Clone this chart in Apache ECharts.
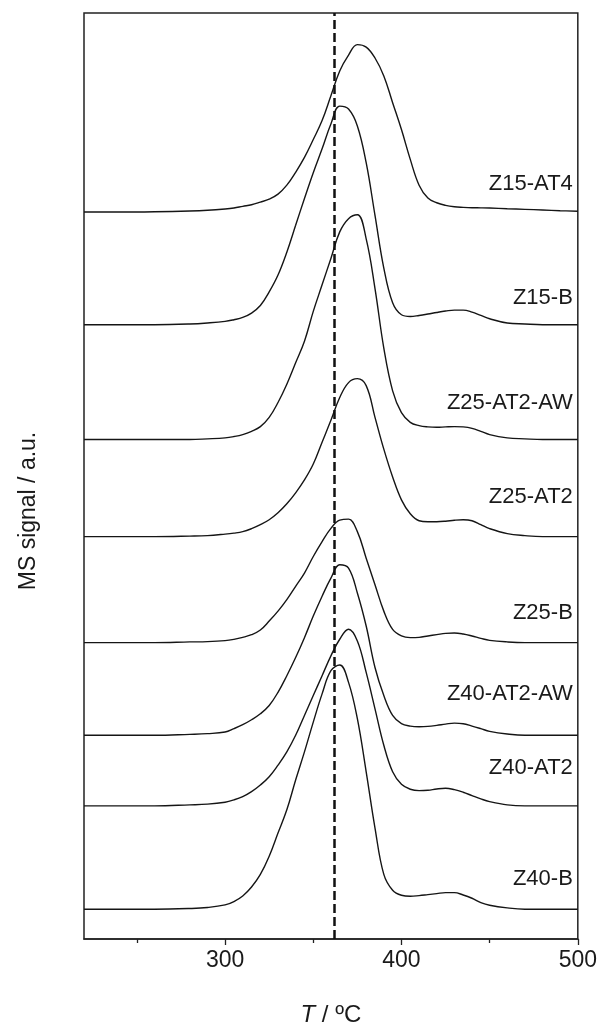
<!DOCTYPE html>
<html>
<head>
<meta charset="utf-8">
<script src="https://cdn.jsdelivr.net/npm/echarts@6/dist/echarts.min.js"></script>
<style>
  html, body { margin: 0; padding: 0; background: #fff; }
  #chart { width: 600px; height: 1032px; }
</style>
</head>
<body>
<div id="chart"></div>
<script>
// ---- Data (temperature in °C, MS signal in arbitrary units) ----
const temperature = [220,240,260,280,290,300,305,310,315,320,325,330,335,340,345,350,355,360,365,370,375,380,385,390,395,400,405,410,415,420,425,430,435,440,445,450,460,470,480,490,500];

const sampleNames = ['Z15-AT4','Z15-B','Z25-AT2-AW','Z25-AT2','Z25-B','Z40-AT2-AW','Z40-AT2','Z40-B'];

// vertical stacking offsets (a.u.)
const offsets = [731.7, 618.3, 502.7, 405, 298.3, 205, 134, 30];

// label heights (a.u.) at the right edge
const labelLevels = [760, 645, 540, 445, 328, 247, 172, 60];

const sigZ15AT4 = [0,0,0.3,1,1.7,3, 4,5.7,7.3,10,13,18,27,40,55,73,92,117,142,158,168.5,166,155,137,110,83,53,27,14,9.3,6.7,5.3,4.7,4.3,4.2,4, 3.3,2.7,2,1.3,0.7];
const sigZ15B   = [0,0,0,0.7,1.7,3.3, 5,7.3,11.7,19.3,33,50,73,100,127,153,177,202,220,217,200,163,110,57,22,10,8.3,9.3,10.7,12.3,13.7,14.7,14.7,12.7,9.3,6, 1.7,0.7,0,0,0];
const sigZ25AT2AW = [0,0,0,0,0.7,1.7, 3,5,8.3,13,22.3,37.3,55.7,77.3,99,129,155.7,182.3,209,222.3,226.3,202,152,92,49,27,17.3,14,12.7,12.3,12.7,13,12.7,11.3,8.3,5, 1.7,0.7,0,0,0];
const sigZ25AT2 = [0,0,0,0.5,1,2.5, 3.5,5,8,12,17,24,33,44,57,73,95,117,140,155,159,152,120,88,60,37,23,16,15,15,15.5,16.5,17,16,12,8, 3,1,0,0,0];
const sigZ25B   = [0,0,0,0.7,1,2, 3.3,5.3,8,12.7,21.7,31.7,43.3,56.7,70,86.7,101.7,115,123.3,124.3,111.7,85,58.3,31.7,13.3,6.7,5,5.3,6.7,8,9.3,9.7,8.7,6.7,4.3,2.3, 0.7,0,0,0,0];
const sigZ40AT2AW = [0,0,0,1,1.7,3.3, 6.7,10.7,15.7,21.7,30,43.3,60,78.3,98.3,120,140,158.3,171.7,168.3,143.3,110,68.3,40,20,11.7,9.3,8.7,9,10,11.3,12.3,11.7,9.3,6.7,4, 1.3,0,0,0,0];
const sigZ40AT2 = [0,0,0,1,1.7,3.7, 6,9.3,14.3,21,29.3,41,54.3,71,91,111,131,151,167.7,177.7,166,134.3,97.7,61,34.3,21.7,16.7,15.3,15.7,17,17.7,16.3,13.7,10.3,7,4.3, 1,0,0,0,0];
const sigZ40B   = [0,0,0,0.7,1.7,4.3, 7.7,13.3,22.3,35,53.3,76.7,100,130,158.3,188.3,216.7,240,245.7,228.3,191.7,138.3,81.7,35,19,14,13,13.7,14.7,15.7,16.7,16.7,14.3,11,6.7,4, 1.3,0,0,0,0];

const signals = [sigZ15AT4, sigZ15B, sigZ25AT2AW, sigZ25AT2, sigZ25B, sigZ40AT2AW, sigZ40AT2, sigZ40B];

const majorTicks = [300, 400, 500];
const minorTicks = [250, 350, 450];
const refTemperature = 362;

// ---- Chart ----
const FONT = '"Liberation Sans", Arial, Helvetica, sans-serif';
const INK = '#151515';

const chart = echarts.init(document.getElementById('chart'), null, { renderer: 'canvas' });

const lineSeries = sampleNames.map((name, k) => ({
  name: name,
  type: 'line',
  xAxisIndex: 0,
  yAxisIndex: 0,
  showSymbol: false,
  smooth: 0.4,
  silent: true,
  lineStyle: { color: INK, width: 1.4 },
  data: temperature.map((t, i) => [t, offsets[k] + signals[k][i]]),
  markLine: k === 0 ? {
    silent: true,
    symbol: 'none',
    label: { show: false },
    lineStyle: { color: '#111', width: 2.5, type: [9, 4] },
    data: [{ xAxis: refTemperature }]
  } : undefined
}));

const labelSeries = {
  type: 'scatter',
  xAxisIndex: 0,
  yAxisIndex: 0,
  symbolSize: 0.01,
  silent: true,
  itemStyle: { color: '#1a1a1a', opacity: 1 },
  label: {
    show: true,
    position: 'left',
    distance: 5,
    fontFamily: FONT,
    fontSize: 22,
    color: '#1a1a1a',
    opacity: 1,
    formatter: p => p.data[2]
  },
  data: sampleNames.map((n, k) => [500, labelLevels[k], n])
};

const option = {
  animation: false,
  backgroundColor: '#fff',
  grid: {
    left: 84, right: 22, top: 13, bottom: 87,
    show: true, borderColor: '#222', borderWidth: 1.5, backgroundColor: 'transparent'
  },
  xAxis: [
    {
      type: 'value', min: 220, max: 500, position: 'bottom',
      axisLine: { show: true, lineStyle: { color: '#222', width: 1.5 } },
      axisTick: { show: true, customValues: majorTicks, length: 6, lineStyle: { color: '#222', width: 1.3 } },
      axisLabel: { show: true, customValues: majorTicks, fontFamily: FONT, fontSize: 23, color: '#1a1a1a', margin: 10 },
      splitLine: { show: false },
      name: '{it|T} / ºC',
      nameLocation: 'middle',
      nameGap: 64,
      nameTextStyle: {
        fontFamily: FONT, fontSize: 24, color: '#1a1a1a',
        rich: { it: { fontFamily: FONT, fontSize: 24, fontStyle: 'italic', color: '#1a1a1a' } }
      }
    },
    {
      type: 'value', min: 220, max: 500, position: 'bottom',
      axisLine: { show: false },
      axisTick: { show: true, customValues: minorTicks, length: 4, lineStyle: { color: '#222', width: 1.3 } },
      axisLabel: { show: false },
      splitLine: { show: false }
    }
  ],
  yAxis: {
    type: 'value', min: 0, max: 932,
    axisLine: { show: false },
    axisTick: { show: false },
    axisLabel: { show: false },
    splitLine: { show: false },
    name: 'MS signal / a.u.',
    nameLocation: 'middle',
    nameGap: 44,
    nameTextStyle: { fontFamily: FONT, fontSize: 23, color: '#1a1a1a', padding: [0, 70, 0, 0] }
  },
  series: lineSeries.concat([labelSeries])
};

chart.setOption(option);
</script>
</body>
</html>
